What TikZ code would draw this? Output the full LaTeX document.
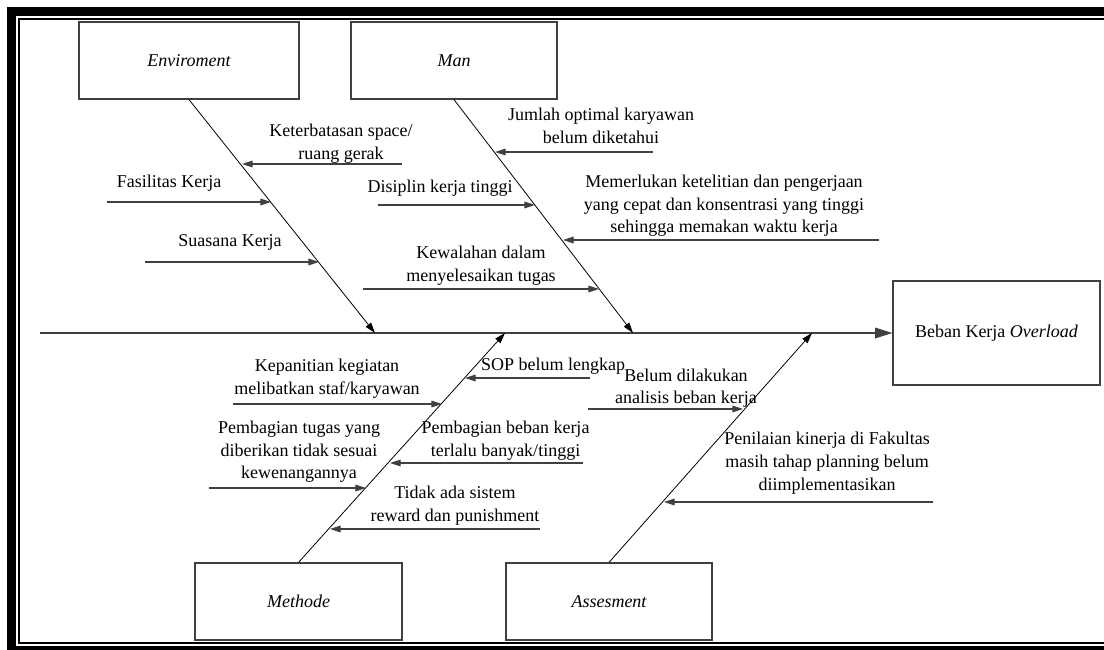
\documentclass[tikz,border=0pt]{standalone}
\usepackage{fontspec}
\setmainfont{Liberation Serif}
\usepackage{tikz}
\usetikzlibrary{arrows.meta, positioning, calc}

\begin{document}
\begin{tikzpicture}[x=0.75pt, y=-0.75pt,
    box/.style={draw=black!75, line width=0.9pt, minimum width=154.5pt, minimum height=57.75pt, font=\fontsize{13.5}{17}\selectfont\itshape},
    cause/.style={font=\fontsize{13.5}{17}\selectfont, align=center, inner sep=0pt},
    bone/.style={-{Triangle[length=8pt, width=5pt]}, line width=0.6pt},
    sub/.style={-{Triangle[length=8pt, width=5pt]}, draw=black!75, line width=0.8pt}]

    % 1. PAGE AND DOUBLE FRAME (cut at the right and bottom edge)
    \useasboundingbox (0,0) rectangle (1104,650);
    \clip (0,0) rectangle (1104,650);
    \draw[line width=6.75pt] (11.5,11.5) rectangle (1130,650.5);
    \draw[line width=1.5pt] (19,19) rectangle (1125,643);

    % 2. CATEGORY BOXES AND EFFECT
    \node[box, minimum width=165pt] (env) at (189,60.5) {Enviroment};
    \node[box] (man) at (454,60.5) {Man};
    \node[box, minimum width=155.25pt] (methode) at (298.5,601.5) {Methode};
    \node[box] (assess) at (609,601.5) {Assesment};
    \node[box, font=\fontsize{13.5}{17}\selectfont, minimum width=155.25pt, minimum height=78pt] (beban) at (996.5,333) {Beban Kerja \textit{Overload}};

    % 3. SPINE AND BONES
    \coordinate (spinestart) at (40,333);
    \draw[-{Triangle[length=13pt, width=8pt]}, draw=black!75, line width=0.9pt] (spinestart) -- (beban.west);
    \coordinate (envtip) at (375,333);
    \coordinate (mantip) at (633,333);
    \coordinate (methtip) at (505,333);
    \coordinate (assesstip) at (812,333);
    \draw[bone] (env.south) -- (envtip);
    \draw[bone] (man.south) -- (mantip);
    \draw[bone] (methode.north) -- (methtip);
    \draw[bone] (assess.north) -- (assesstip);

    % 4. ENVIROMENT CAUSES
    \coordinate (e1t) at (402,164); \coordinate (e1h) at (242,164);
    \draw[sub] (e1t) -- (e1h);
    \node[cause] (e1) at (341,143.5) {Keterbatasan space/\\ruang gerak};

    \coordinate (e2t) at (107,202); \coordinate (e2h) at (271,202);
    \draw[sub] (e2t) -- (e2h);
    \node[cause] (e2) at (169,183) {Fasilitas Kerja};

    \coordinate (e3t) at (145,262); \coordinate (e3h) at (319,262);
    \draw[sub] (e3t) -- (e3h);
    \node[cause] (e3) at (230,242) {Suasana Kerja};

    % 5. MAN CAUSES
    \coordinate (m1t) at (653,152); \coordinate (m1h) at (495,152);
    \draw[sub] (m1t) -- (m1h);
    \node[cause] (m1) at (601,126) {Jumlah optimal karyawan\\belum diketahui};

    \coordinate (m2t) at (378,205); \coordinate (m2h) at (535,205);
    \draw[sub] (m2t) -- (m2h);
    \node[cause] (m2) at (440,188) {Disiplin kerja tinggi};

    \coordinate (m3t) at (879,240); \coordinate (m3h) at (563,240);
    \draw[sub] (m3t) -- (m3h);
    \node[cause] (m3) at (724,206) {Memerlukan ketelitian dan pengerjaan\\yang cepat dan konsentrasi yang tinggi\\sehingga memakan waktu kerja};

    \coordinate (m4t) at (363,289); \coordinate (m4h) at (599,289);
    \draw[sub] (m4t) -- (m4h);
    \node[cause] (m4) at (481,265.5) {Kewalahan dalam\\menyelesaikan tugas};

    % 6. METHODE CAUSES
    \coordinate (d1t) at (233,404); \coordinate (d1h) at (442,404);
    \draw[sub] (d1t) -- (d1h);
    \node[cause] (d1) at (327,379) {Kepanitian kegiatan\\melibatkan staf/karyawan};

    \coordinate (d2t) at (590,378); \coordinate (d2h) at (465,378);
    \draw[sub] (d2t) -- (d2h);
    \node[cause] (d2) at (553,366) {SOP belum lengkap};

    \coordinate (d3t) at (209,488); \coordinate (d3h) at (366,488);
    \draw[sub] (d3t) -- (d3h);
    \node[cause] (d3) at (299,452) {Pembagian tugas yang\\diberikan tidak sesuai\\kewenangannya};

    \coordinate (d4t) at (583,463); \coordinate (d4h) at (390,463);
    \draw[sub] (d4t) -- (d4h);
    \node[cause] (d4) at (505.5,440.5) {Pembagian beban kerja\\terlalu banyak/tinggi};

    \coordinate (d5t) at (540,529); \coordinate (d5h) at (330,529);
    \draw[sub] (d5t) -- (d5h);
    \node[cause] (d5) at (455,505.5) {Tidak ada sistem\\reward dan punishment};

    % 7. ASSESMENT CAUSES
    \coordinate (a1t) at (588,409); \coordinate (a1h) at (743,409);
    \draw[sub] (a1t) -- (a1h);
    \node[cause] (a1) at (686,388) {Belum dilakukan\\analisis beban kerja};

    \coordinate (a2t) at (933,502); \coordinate (a2h) at (664,502);
    \draw[sub] (a2t) -- (a2h);
    \node[cause] (a2) at (827,463) {Penilaian kinerja di Fakultas\\masih tahap planning belum\\diimplementasikan};

\end{tikzpicture}
\end{document}
